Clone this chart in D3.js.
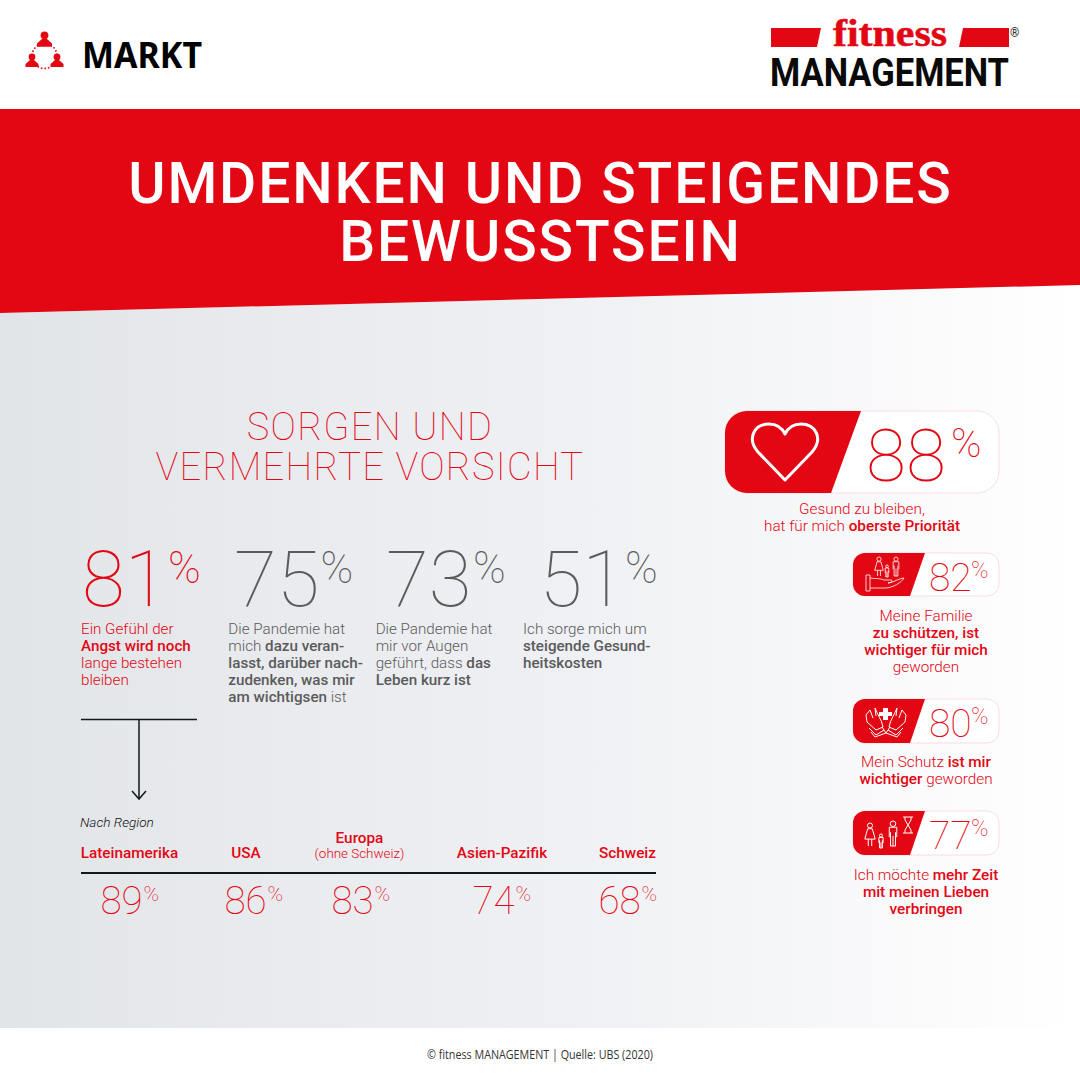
<!DOCTYPE html>
<html lang="de">
<head>
<meta charset="utf-8">
<title>Umdenken und steigendes Bewusstsein</title>
<script src="https://cdn.jsdelivr.net/npm/d3@7"></script>
<style>
    html, body { margin: 0; padding: 0; background: #fff; }
    svg { display: block; font-family: Roboto, sans-serif; }
</style>
</head>
<body>
<svg id="chart" width="1080" height="1080" viewBox="0 0 1080 1080"></svg>
<script>
const red = "#e30613";
const grey = "#5b5b5b";

// ** marks bold runs
const titleLines = ["UMDENKEN UND STEIGENDES", "BEWUSSTSEIN"];
const subtitleLines = ["SORGEN UND", "VERMEHRTE VORSICHT"];

const topValues = [81, 75, 73, 51];
const topTexts = [
    ["Ein Gefühl der", "**Angst wird noch**", "lange bestehen", "bleiben"],
    ["Die Pandemie hat", "mich **dazu veran-**", "**lasst, darüber nach-**", "**zudenken, was mir**", "**am wichtigsen** ist"],
    ["Die Pandemie hat", "mir vor Augen", "geführt, dass **das**", "**Leben kurz ist**"],
    ["Ich sorge mich um", "**steigende Gesund-**", "**heitskosten**"]
];

const regions = ["Lateinamerika", "USA", "Europa", "Asien-Pazifik", "Schweiz"];
const regionValues = [89, 86, 83, 74, 68];

const sideValues = [88, 82, 80, 77];
const sideTexts = [
    ["Gesund zu bleiben,", "hat für mich **oberste Priorität**"],
    ["Meine Familie", "**zu schützen, ist**", "**wichtiger für mich**", "geworden"],
    ["Mein Schutz **ist mir**", "**wichtiger** geworden"],
    ["Ich möchte **mehr Zeit**", "**mit meinen Lieben**", "**verbringen**"]
];

const svg = d3.select("#chart");

const defs = svg.append("defs");
const grad = defs.append("linearGradient").attr("id", "bg");
grad.append("stop").attr("offset", "0%").attr("stop-color", "#e2e5e8");
grad.append("stop").attr("offset", "55%").attr("stop-color", "#f0f1f4");
grad.append("stop").attr("offset", "100%").attr("stop-color", "#ffffff");

svg.append("polygon").attr("points", "0,313 1080,285 1080,1028 0,1028").attr("fill", "url(#bg)");
svg.append("polygon").attr("points", "0,109 1080,109 1080,285 0,313").attr("fill", red);

// text line with **bold** runs
function richLine(g, str, x, y, opts) {
    const t = g.append("text")
        .attr("x", x).attr("y", y)
        .attr("text-anchor", opts.anchor || "start")
        .attr("font-size", opts.size)
        .attr("fill", opts.color);
    str.split("**").forEach((part, i) => {
        if (!part) return;
        t.append("tspan").attr("font-weight", i % 2 ? 500 : 300).text(part);
    });
    return t;
}

function pct(g, x, y, value, size, pSize, color, pX, pTop) {
    g.append("text").attr("x", x).attr("y", y)
        .attr("font-size", size).attr("font-weight", 100).attr("fill", color)
        .text(value);
    g.append("text").attr("x", pX).attr("y", y - pTop)
        .attr("font-size", pSize).attr("font-weight", 100).attr("fill", color)
        .text("%");
}

// header left
const peopleIcon = svg.append("g").attr("fill", red);
function person(g, cx, cy, s) {
    g.append("circle").attr("cx", cx).attr("cy", cy - 4.5 * s).attr("r", 3.4 * s);
    g.append("path").attr("d", `M${cx - 2 * s},${cy - 1.5 * s}L${cx - 6.5 * s},${cy + 2.5 * s}L${cx - 6.5 * s},${cy + 5.5 * s}L${cx + 6.5 * s},${cy + 5.5 * s}L${cx + 6.5 * s},${cy + 2.5 * s}L${cx + 2 * s},${cy - 1.5 * s}Z`);
}
svg.append("circle").attr("cx", 44.5).attr("cy", 56).attr("r", 12.5)
    .attr("fill", "none").attr("stroke", red).attr("stroke-width", 1.6).attr("stroke-dasharray", "1.6 2");
person(peopleIcon, 44.5, 40.5, 1.15);
person(peopleIcon, 32, 61.5, 1);
person(peopleIcon, 57, 61.5, 1);
svg.append("text").attr("x", 82).attr("y", 68)
    .attr("font-family", "'Noto Sans', sans-serif").attr("font-weight", 700)
    .attr("font-size", 36).attr("textLength", 120).attr("lengthAdjust", "spacingAndGlyphs")
    .attr("fill", "#000").text("MARKT");

// logo
svg.append("polygon").attr("points", "771,28 821,28 817,47 771,47").attr("fill", red);
svg.append("polygon").attr("points", "963,28 1009,28 1009,47 959,47").attr("fill", red);
svg.append("text").attr("x", 833).attr("y", 46)
    .attr("font-family", "'Liberation Serif', serif").attr("font-weight", 700)
    .attr("font-size", 38).attr("textLength", 114).attr("lengthAdjust", "spacingAndGlyphs")
    .attr("fill", red).attr("stroke", red).attr("stroke-width", 0.5).text("fitness");
svg.append("text").attr("x", 770).attr("y", 86)
    .attr("font-weight", 700).attr("font-size", 38).attr("textLength", 239).attr("lengthAdjust", "spacingAndGlyphs")
    .attr("fill", "#0a0a0a").text("MANAGEMENT");
svg.append("text").attr("x", 1010).attr("y", 37)
    .attr("font-weight", 700).attr("font-size", 12).attr("fill", "#333").text("®");

// title
titleLines.forEach((line, i) => {
    svg.append("text").attr("x", 540.5).attr("y", 203 + i * 58)
        .attr("text-anchor", "middle").attr("font-size", 57).attr("font-weight", 500)
        .attr("letter-spacing", 1.85).attr("fill", "#fff").text(line);
});
subtitleLines.forEach((line, i) => {
    svg.append("text").attr("x", 370).attr("y", 440 + i * 39.5)
        .attr("text-anchor", "middle").attr("font-size", 38).attr("font-weight", 100)
        .attr("letter-spacing", 1.3).attr("fill", red).text(line);
});

// four main figures
const xTop = d3.scalePoint().domain(topValues).range([81, 523]);
const xTopDigits = d3.scaleOrdinal().domain(topValues).range([82, 234, 386, 539.5]);
const xTopPct = d3.scaleOrdinal().domain(topValues).range([168, 320.6, 473, 625]);
topValues.forEach((v, i) => {
    const color = i === 0 ? red : grey;
    const g = svg.append("g");
    pct(g, xTopDigits(v), 606, v, 78, 44, color, xTopPct(v), 23);
    topTexts[i].forEach((line, j) => {
        richLine(g, line, xTop(v), 633.5 + j * 17.1, { size: 15.2, color: color });
    });
});

// arrow
const dark = "#111820";
svg.append("line").attr("x1", 81).attr("x2", 197).attr("y1", 719.5).attr("y2", 719.5)
    .attr("stroke", dark).attr("stroke-width", 1.5);
svg.append("line").attr("x1", 139).attr("x2", 139).attr("y1", 719).attr("y2", 799)
    .attr("stroke", dark).attr("stroke-width", 1.5);
svg.append("path").attr("d", "M132,791L139,799L146,791").attr("fill", "none")
    .attr("stroke", dark).attr("stroke-width", 1.5);

// regions
svg.append("text").attr("x", 80).attr("y", 827).attr("font-size", 13.6)
    .attr("font-style", "italic").attr("font-weight", 300).attr("fill", "#111").text("Nach Region");
const xRegion = d3.scaleOrdinal().domain(regions).range([130, 254, 361, 502, 628]);
const xRegionHead = d3.scaleOrdinal().domain(regions).range([129.5, 246, 359.5, 502, 627.5]);
regions.forEach((r, i) => {
    const cx = xRegion(r);
    svg.append("text").attr("x", xRegionHead(r)).attr("y", r === "Europa" ? 843 : 858)
        .attr("text-anchor", "middle").attr("font-size", 15.3).attr("font-weight", 500)
        .attr("fill", red).text(r);
    pct(svg, cx - 29.5, 914, regionValues[i], 38.5, 21, red, cx + 13.5, 13);
});
svg.append("text").attr("x", 359.5).attr("y", 858).attr("text-anchor", "middle")
    .attr("font-size", 13.4).attr("font-weight", 300).attr("fill", red).text("(ohne Schweiz)");
svg.append("line").attr("x1", 81).attr("x2", 656).attr("y1", 873).attr("y2", 873)
    .attr("stroke", dark).attr("stroke-width", 2);

// side badges
function badge(x0, y0, x1, y1, topCut, bottomCut, r) {
    const h = y1 - y0;
    svg.append("rect").attr("x", x0).attr("y", y0).attr("width", x1 - x0).attr("height", h)
        .attr("rx", r).attr("fill", "#fff").attr("stroke", "#f9dde0").attr("stroke-width", 1);
    svg.append("path")
        .attr("d", `M${x0 + r},${y0}L${topCut},${y0}L${bottomCut},${y1}L${x0 + r},${y1}A${r},${r} 0 0 1 ${x0},${y1 - r}L${x0},${y0 + r}A${r},${r} 0 0 1 ${x0 + r},${y0}Z`)
        .attr("fill", red);
}

badge(725, 411, 999, 493, 861, 831, 22);
badge(853, 553, 999, 596, 925, 910, 12);
badge(853, 699, 999, 743, 925, 910, 12);
badge(853, 811, 999, 855, 925, 910, 12);

const sideY = d3.scaleOrdinal().domain(sideValues).range([481, 591, 737, 849]);
const captionY = d3.scaleOrdinal().domain(sideValues).range([514, 621, 767, 880]);
sideValues.forEach((v, i) => {
    const y = sideY(v);
    if (i === 0) pct(svg, 866, y, v, 73, 41, red, 951, 24);
    else pct(svg, 929, y, v, 39, 23.5, red, 971, 13);
    sideTexts[i].forEach((line, j) => {
        richLine(svg, line, i === 0 ? 862 : 926, captionY(v) + j * 17.1, { anchor: "middle", size: 15.3, color: red });
    });
});

// icons (white line drawings)
const icon = svg.append("g").attr("fill", "none").attr("stroke", "#fff").attr("stroke-linejoin", "round").attr("stroke-linecap", "round");
icon.append("path").attr("stroke-width", 3)
    .attr("d", "M785,480L758,452C746,438 755,424 769,424C777,424 782,428 785,434C788,428 793,424 801,424C815,424 824,438 812,452Z");

function figure(g, cx, top, s, dress) {
    g.append("circle").attr("cx", cx).attr("cy", top + 2.2 * s).attr("r", 2.2 * s);
    if (dress) {
        g.append("path").attr("d", `M${cx - 2 * s},${top + 5 * s}L${cx + 2 * s},${top + 5 * s}L${cx + 4.5 * s},${top + 14 * s}L${cx - 4.5 * s},${top + 14 * s}Z`);
        g.append("path").attr("d", `M${cx - 1.5 * s},${top + 14 * s}V${top + 20 * s}M${cx + 1.5 * s},${top + 14 * s}V${top + 20 * s}`);
    } else {
        g.append("path").attr("d", `M${cx - 3 * s},${top + 13 * s}V${top + 5 * s}H${cx + 3 * s}V${top + 13 * s}M${cx - 2 * s},${top + 9 * s}V${top + 20 * s}H${cx}V${top + 12 * s}M${cx},${top + 20 * s}H${cx + 2 * s}V${top + 9 * s}`);
    }
}
const family = svg.append("g").attr("fill", "none").attr("stroke", "#fff").attr("stroke-width", 0.8);
figure(family, 879, 557, 0.95, true);
figure(family, 887, 565, 0.6, false);
figure(family, 896, 557, 0.95, false);
family.append("path").attr("d", "M866,575H870V591H866ZM870,578C875,579 880,578 884,580H891C894,581 891,583 888,583C892,583 900,578 904,578C902,582 893,588 885,588H870");
// protecting hands with cross
const hands = svg.append("g").attr("fill", "none").attr("stroke", "#fff").attr("stroke-width", 1);
hands.append("path").attr("d", "M866,715L867,722L876,730L883,727C882,720 877,714 875,708M866,715L870,710M870,710L873,718M875,708L876,716M869,728L876,735L884,730L882,727M871,732L875,737L886,733L884,730");
hands.append("path").attr("d", "M906,715L905,722L896,730L889,727C890,720 895,714 897,708M906,715L902,710M902,710L899,718M897,708L896,716M903,728L896,735L888,730L890,727M901,732L897,737L886,733L888,730");
svg.append("path").attr("fill", "#fff").attr("d", "M883,708H888V712H892V716H888V720H883V716H879V712H883Z");
// family with hourglass
const family2 = svg.append("g").attr("fill", "none").attr("stroke", "#fff").attr("stroke-width", 1);
figure(family2, 870, 823, 1.15, true);
figure(family2, 881, 834, 0.7, false);
figure(family2, 893, 821, 1.25, false);
family2.append("path").attr("d", "M903,817H913M903,833H913M905,817V820L908,825L905,830V833M911,817V820L908,825L911,830V833");

// footer
svg.append("text").attr("x", 427).attr("y", 1059)
    .attr("font-family", "'Open Sans', sans-serif").attr("font-size", 12).attr("fill", "#333")
    .attr("textLength", 226).attr("lengthAdjust", "spacingAndGlyphs")
    .text("© fitness MANAGEMENT | Quelle: UBS (2020)");
</script>
</body>
</html>
